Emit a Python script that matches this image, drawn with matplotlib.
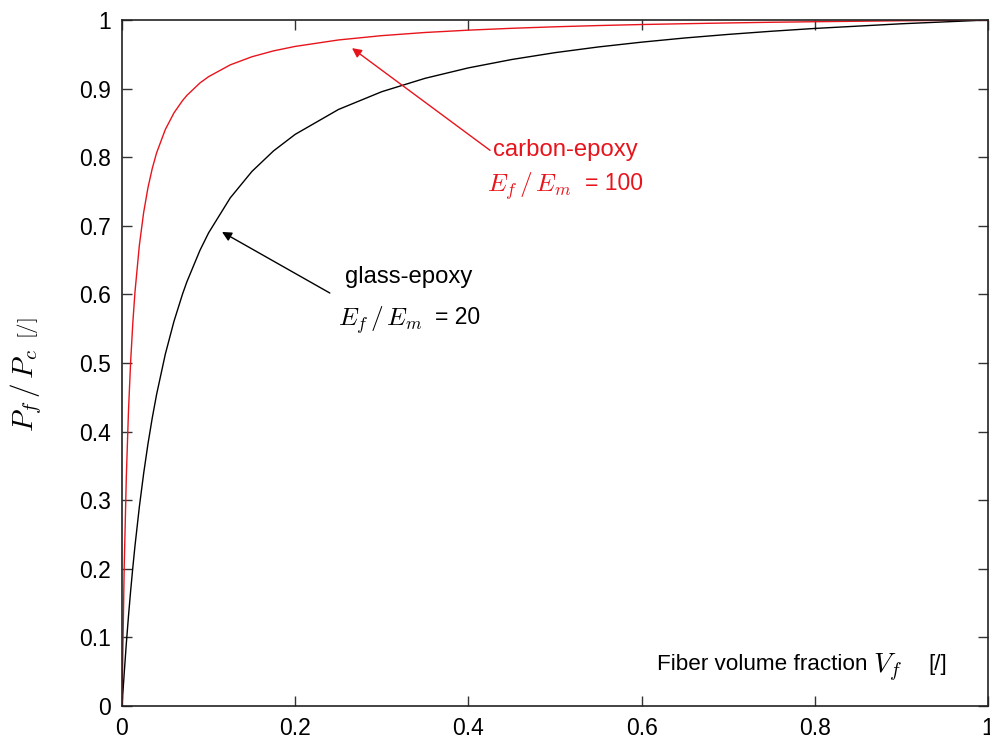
import matplotlib
matplotlib.use("Agg")
import matplotlib.pyplot as plt

plt.rcParams['font.family'] = ['Liberation Sans', 'DejaVu Sans']
plt.rcParams['mathtext.fontset'] = 'cm'

# Fiber volume fraction samples and load-share ratios
vf = [0, 0.0025, 0.005, 0.0075, 0.01, 0.0125, 0.015, 0.02, 0.025, 0.03, 0.035, 0.04,
      0.05, 0.06, 0.07, 0.075, 0.09, 0.1, 0.125, 0.15, 0.175, 0.2, 0.25, 0.3, 0.35,
      0.4, 0.45, 0.5, 0.55, 0.6, 0.65, 0.7, 0.75, 0.8, 0.9, 1.0]
glass = [0, 0.047, 0.0913, 0.1313, 0.1681, 0.2020, 0.2335, 0.2899, 0.3390, 0.3822,
         0.4204, 0.4545, 0.5128, 0.5607, 0.6009, 0.6186, 0.6642, 0.6897, 0.7407,
         0.7792, 0.8092, 0.8333, 0.8696, 0.8955, 0.9150, 0.9302, 0.9424, 0.9524,
         0.9607, 0.9677, 0.9738, 0.9790, 0.9836, 0.9877, 0.9945, 1.0]
carbon = [0, 0.2004, 0.3344, 0.4304, 0.5025, 0.5587, 0.6036, 0.6711, 0.7194, 0.7557,
          0.7839, 0.8065, 0.8403, 0.8646, 0.8827, 0.8902, 0.9082, 0.9174, 0.9346,
          0.9464, 0.9550, 0.9615, 0.9709, 0.9772, 0.9818, 0.9852, 0.9879, 0.9901,
          0.9919, 0.9934, 0.9946, 0.9957, 0.9967, 0.9975, 0.9989, 1.0]

xticks = [0, 0.2, 0.4, 0.6, 0.8, 1]
xticklabels = ['0', '0.2', '0.4', '0.6', '0.8', '1']
yticks = [0, 0.1, 0.2, 0.3, 0.4, 0.5, 0.6, 0.7, 0.8, 0.9, 1]
yticklabels = ['0', '0.1', '0.2', '0.3', '0.4', '0.5', '0.6', '0.7', '0.8', '0.9', '1']

RED = '#e8141c'

fig = plt.figure(figsize=(9.9, 7.42), dpi=100)
ax = fig.add_axes([122/990, 36/742, 866/990, 686/742])

ax.plot(vf, glass, color='black', lw=1.0, solid_joinstyle='round')
ax.plot(vf, carbon, color=RED, lw=1.0, solid_joinstyle='round')

ax.set_xlim(0, 1)
ax.set_ylim(0, 1)
ax.set_xticks(xticks)
ax.set_xticklabels(xticklabels)
ax.set_yticks(yticks)
ax.set_yticklabels(yticklabels)
ax.tick_params(direction='in', length=7, width=1, labelsize=16.5, top=True, right=True,
               color='#333333', pad=8)
for s in ax.spines.values():
    s.set_linewidth(1.2)
    s.set_color('#222222')

# y label (math part larger than the unit)
fig.text(26/990, 1 - 390/742, r'$P_f\,/\,P_c$', fontsize=21, rotation=90,
         ha='center', va='center')
fig.text(27/990, 1 - 328/742, r'$\mathrm{[/]}$', fontsize=15, rotation=90,
         ha='center', va='center')

# x label inside the axes
ax.text(0.6175, 0.060, 'Fiber volume fraction', fontsize=16.2, va='center', ha='left')
ax.text((873 - 122)/866, 0.056, r'$V_f$', fontsize=20, va='center', ha='left')
ax.text((928 - 122)/866, 0.060, '[/]', fontsize=16.2, va='center', ha='left')

ax.annotate('', xy=(0.1155, 0.691), xytext=(0.240, 0.602),
            arrowprops=dict(arrowstyle='-|>', color='black', lw=1.0, mutation_scale=14,
                            shrinkA=0, shrinkB=0))
ax.annotate('', xy=(0.2656, 0.959), xytext=(0.425, 0.810),
            arrowprops=dict(arrowstyle='-|>', color=RED, lw=1.0, mutation_scale=14,
                            shrinkA=0, shrinkB=0))

ax.text(0.257, 0.625, 'glass-epoxy', fontsize=17.2, va='center', ha='left')
ax.text(0.249, 0.562, r'$E_f\,/\,E_m$', fontsize=18.2, va='center', ha='left')
ax.text(0.362, 0.566, '= 20', fontsize=16.5, va='center', ha='left')
ax.text(0.428, 0.810, 'carbon-epoxy', fontsize=17.2, va='center', ha='left', color=RED)
ax.text(0.4215, 0.758, r'$E_f\,/\,E_m$', fontsize=18.2, va='center', ha='left', color=RED)
ax.text(0.535, 0.762, '= 100', fontsize=16.5, va='center', ha='left', color=RED)

fig.savefig('out.png', dpi=100)
